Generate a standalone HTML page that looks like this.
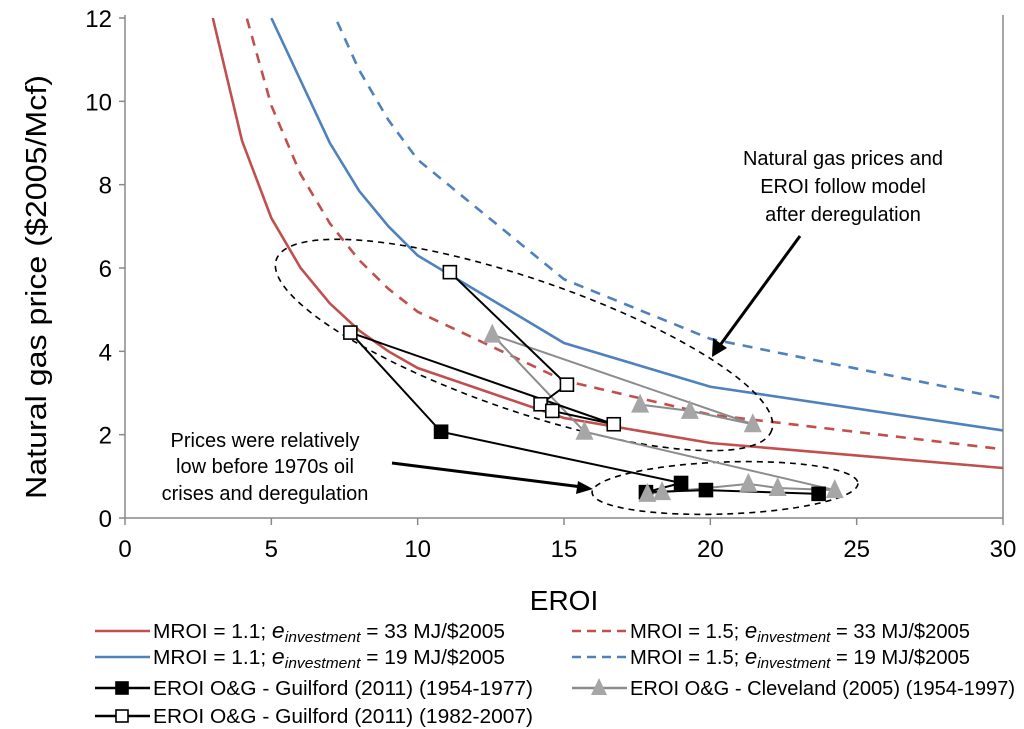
<!DOCTYPE html>
<html><head><meta charset="utf-8"><style>
html,body{margin:0;padding:0;background:#fff;}
svg{display:block;font-family:"Liberation Sans",sans-serif;}
</style></head><body>
<svg id="chart" width="1024" height="729" viewBox="0 0 1024 729" xmlns="http://www.w3.org/2000/svg">
<g id="axes"></g>
<g id="curves"></g>
<g id="anno">
  <ellipse cx="524" cy="345" rx="262" ry="66" transform="rotate(19 524 345)" fill="none" stroke="#000" stroke-width="1.6" stroke-dasharray="6,5"/>
  <ellipse cx="725" cy="488" rx="133" ry="26" transform="rotate(-2 725 488)" fill="none" stroke="#000" stroke-width="1.6" stroke-dasharray="6,5"/>
  <text font-size="20" text-anchor="middle" fill="#000"><tspan x="843" y="165">Natural gas prices and</tspan><tspan x="843" y="193">EROI follow model</tspan><tspan x="843" y="221">after deregulation</tspan></text>
  <line x1="800" y1="236" x2="718" y2="348" stroke="#000" stroke-width="3"/>
  <polygon points="712,357 713,338 727,348" fill="#000"/>
  <text font-size="20" text-anchor="middle" fill="#000"><tspan x="265" y="447">Prices were relatively</tspan><tspan x="265" y="473">low before 1970s oil</tspan><tspan x="265" y="500">crises and deregulation</tspan></text>
  <line x1="392" y1="463" x2="582" y2="487" stroke="#000" stroke-width="3"/>
  <polygon points="593,489 578,481 576,494" fill="#000"/>
</g>
<g id="series"></g>
<g id="legend"></g>
</svg>
<script>
const xTicks=[0,5,10,15,20,25,30];
const yTicks=[0,2,4,6,8,10,12];
const redSolidX=[3,4,5,6,7,8,9,10,15,20,30];
const redSolidY=[12,9.05,7.2,6.0,5.15,4.5,4.0,3.6,2.4,1.8,1.2];
const redDashX=[4,5,6,7,8,9,10,15,20,30];
const redDashY=[12.4,9.9,8.25,7.07,6.19,5.5,4.95,3.3,2.48,1.65];
const blueSolidX=[5,6,7,8,9,10,15,20,30];
const blueSolidY=[12.0,10.5,9.0,7.85,7.0,6.3,4.2,3.15,2.1];
const blueDashX=[7,8,9,10,15,20,30];
const blueDashY=[12.3,10.75,9.55,8.6,5.73,4.3,2.87];
const openX=[11.1,15.1,14.2,14.6,16.7,7.7,10.8];
const openY=[5.9,3.2,2.73,2.57,2.25,4.45,2.07];
const filledX=[10.8,19.0,17.8,19.85,23.7];
const filledY=[2.07,0.84,0.62,0.67,0.58];
const triX=[18.35,17.85,21.3,22.3,24.25,15.7,12.55,21.45,19.3,17.6];
const triY=[0.62,0.58,0.82,0.72,0.67,2.07,4.4,2.25,2.57,2.72];

const NS='http://www.w3.org/2000/svg';
const X0=125,X1=1003,Y0=518,Y1=18;
const sx=v=>X0+(v-0)/30*(X1-X0);
const sy=v=>Y0-(v-0)/12*(Y0-Y1);
function mk(tag,attrs,parent){const e=document.createElementNS(NS,tag);for(const k in attrs)e.setAttribute(k,attrs[k]);parent.appendChild(e);return e;}
const axes=document.getElementById('axes');
let e=mk('line',{x1:X0,y1:Y1-3,x2:X0,y2:Y0,stroke:'#888','stroke-width':1.5},axes);


e=mk('line',{x1:X0,y1:Y0,x2:X1,y2:Y0,stroke:'#888','stroke-width':1.5},axes);


e=mk('line',{x1:X1,y1:Y1-3,x2:X1,y2:Y0,stroke:'#888','stroke-width':1.5},axes);


xTicks.forEach(t=>{
  let l=mk('line',{x1:sx(t),y1:Y0,x2:sx(t),y2:Y0+7,stroke:'#888','stroke-width':1.5},axes);
  
  
  let tx=mk('text',{x:sx(t),y:Y0+39,'font-size':24,'text-anchor':'middle',fill:'#000'},axes);
  tx.textContent=t;
  
  
});
yTicks.forEach(t=>{
  let l=mk('line',{x1:X0-6,y1:sy(t),x2:X0,y2:sy(t),stroke:'#888','stroke-width':1.5},axes);
  
  
  let tx=mk('text',{x:X0-13,y:sy(t)+9,'font-size':24,'text-anchor':'end',fill:'#000'},axes);
  tx.textContent=t;
  
  
});
e=mk('text',{x:564,y:610,'font-size':28,'text-anchor':'middle',fill:'#000'},axes);
e.textContent='EROI';


e=mk('text',{x:0,y:0,'font-size':29,'text-anchor':'middle',fill:'#000',textLength:424,lengthAdjust:'spacingAndGlyphs',transform:'translate(46,287) rotate(-90)'},axes);
e.textContent='Natural gas price ($2005/Mcf)';



const curves=document.getElementById('curves');
const clip=mk('clipPath',{id:'pc'},curves);
mk('rect',{x:X0,y:Y1,width:X1-X0,height:Y0-Y1},clip);
function pts(xs,ys){return xs.map((x,i)=>sx(x)+','+sy(ys[i])).join(' ');}
function curve(xs,ys,color,dash,name){
  const p=mk('polyline',{points:pts(xs,ys),fill:'none',stroke:color,'stroke-width':2.6,'clip-path':'url(#pc)'},curves);
  if(dash)p.setAttribute('stroke-dasharray','10,8');
  
  
}
curve(redSolidX,redSolidY,'#c0504d',false,'curve-mroi-1-1-33');
curve(redDashX,redDashY,'#c0504d',true,'curve-mroi-1-5-33');
curve(blueSolidX,blueSolidY,'#4f81bd',false,'curve-mroi-1-1-19');
curve(blueDashX,blueDashY,'#4f81bd',true,'curve-mroi-1-5-19');

const series=document.getElementById('series');
function sq(x,y,filled,parent,size){
  const s=size||13;
  return mk('rect',{x:x-s/2,y:y-s/2,width:s,height:s,fill:filled?'#000':'#fff',stroke:'#000','stroke-width':1.6},parent);
}
function tri(x,y,parent,s){
  s=s||9;
  return mk('polygon',{points:`${x},${y-s-2} ${x-s},${y+s-1} ${x+s},${y+s-1}`,fill:'#a6a6a6'},parent);
}
let pl=mk('polyline',{points:pts(triX,triY),fill:'none',stroke:'#8c8c8c','stroke-width':2},series);


pl=mk('polyline',{points:pts(openX,openY),fill:'none',stroke:'#000','stroke-width':2},series);


pl=mk('polyline',{points:pts(filledX,filledY),fill:'none',stroke:'#000','stroke-width':2},series);


openX.slice(0,6).forEach((x,i)=>{
  const m=sq(sx(x),sy(openY[i]),false,series);
  
  
});
filledX.forEach((x,i)=>{
  const m=sq(sx(x),sy(filledY[i]),true,series);
  
  
});
triX.forEach((x,i)=>{
  const m=tri(sx(x),sy(triY[i]),series);
  
  
});

const legend=document.getElementById('legend');
function legText(x,y,parts,name,len){
  const t=mk('text',{x:x,y:y,'font-size':20,fill:'#000'},legend);
  if(len){t.setAttribute('textLength',len);t.setAttribute('lengthAdjust','spacingAndGlyphs');}
  parts.forEach(p=>{
    const ts=mk('tspan',{},t);
    if(p.i){ts.setAttribute('font-style','italic');}
    if(p.big){ts.setAttribute('font-size','22');}
    if(p.sub){ts.setAttribute('font-size','15');ts.setAttribute('dy','4');}
    if(p.up){ts.setAttribute('dy','-4');}
    ts.textContent=p.t;
  });
  
  
}
function legLine(x,y,color,dash,name){
  const l=mk('line',{x1:x,y1:y,x2:x+55,y2:y,stroke:color,'stroke-width':2.6},legend);
  if(dash)l.setAttribute('stroke-dasharray','9,6');
  
  
}
const rows=[631,657,688,716];
legLine(95,rows[0],'#c0504d',false,'legend-swatch-red-solid');
legText(153,rows[0]+7,[{t:'MROI = 1.1;  '},{t:'e',i:1,big:1},{t:'investment',i:1,sub:1},{t:' = 33 MJ/$2005',up:1}],'legend-entry-red-solid',352);
legLine(95,rows[1],'#4f81bd',false,'legend-swatch-blue-solid');
legText(153,rows[1]+7,[{t:'MROI = 1.1;  '},{t:'e',i:1,big:1},{t:'investment',i:1,sub:1},{t:' = 19 MJ/$2005',up:1}],'legend-entry-blue-solid',352);
legLine(572,rows[0],'#c0504d',true,'legend-swatch-red-dashed');
legText(630,rows[0]+7,[{t:'MROI = 1.5; '},{t:'e',i:1,big:1},{t:'investment',i:1,sub:1},{t:' = 33 MJ/$2005',up:1}],'legend-entry-red-dashed',340);
legLine(572,rows[1],'#4f81bd',true,'legend-swatch-blue-dashed');
legText(630,rows[1]+7,[{t:'MROI = 1.5; '},{t:'e',i:1,big:1},{t:'investment',i:1,sub:1},{t:' = 19 MJ/$2005',up:1}],'legend-entry-blue-dashed',340);
legLine(95,rows[2],'#000',false,'legend-swatch-guilford-1954');
e=sq(122,rows[2],true,legend,12);


legText(153,rows[2]+7,[{t:'EROI O&G - Guilford (2011) (1954-1977)'}],'legend-entry-guilford-1954-1977',380);
legLine(572,rows[2],'#8c8c8c',false,'legend-swatch-cleveland');
e=tri(599,rows[2],legend,8);


legText(630,rows[2]+7,[{t:'EROI O&G - Cleveland (2005) (1954-1997)'}],'legend-entry-cleveland',385);
legLine(95,rows[3],'#000',false,'legend-swatch-guilford-1982');
e=sq(122,rows[3],false,legend,12);


legText(153,rows[3]+7,[{t:'EROI O&G - Guilford (2011) (1982-2007)'}],'legend-entry-guilford-1982-2007',380);
</script>
</body></html>
